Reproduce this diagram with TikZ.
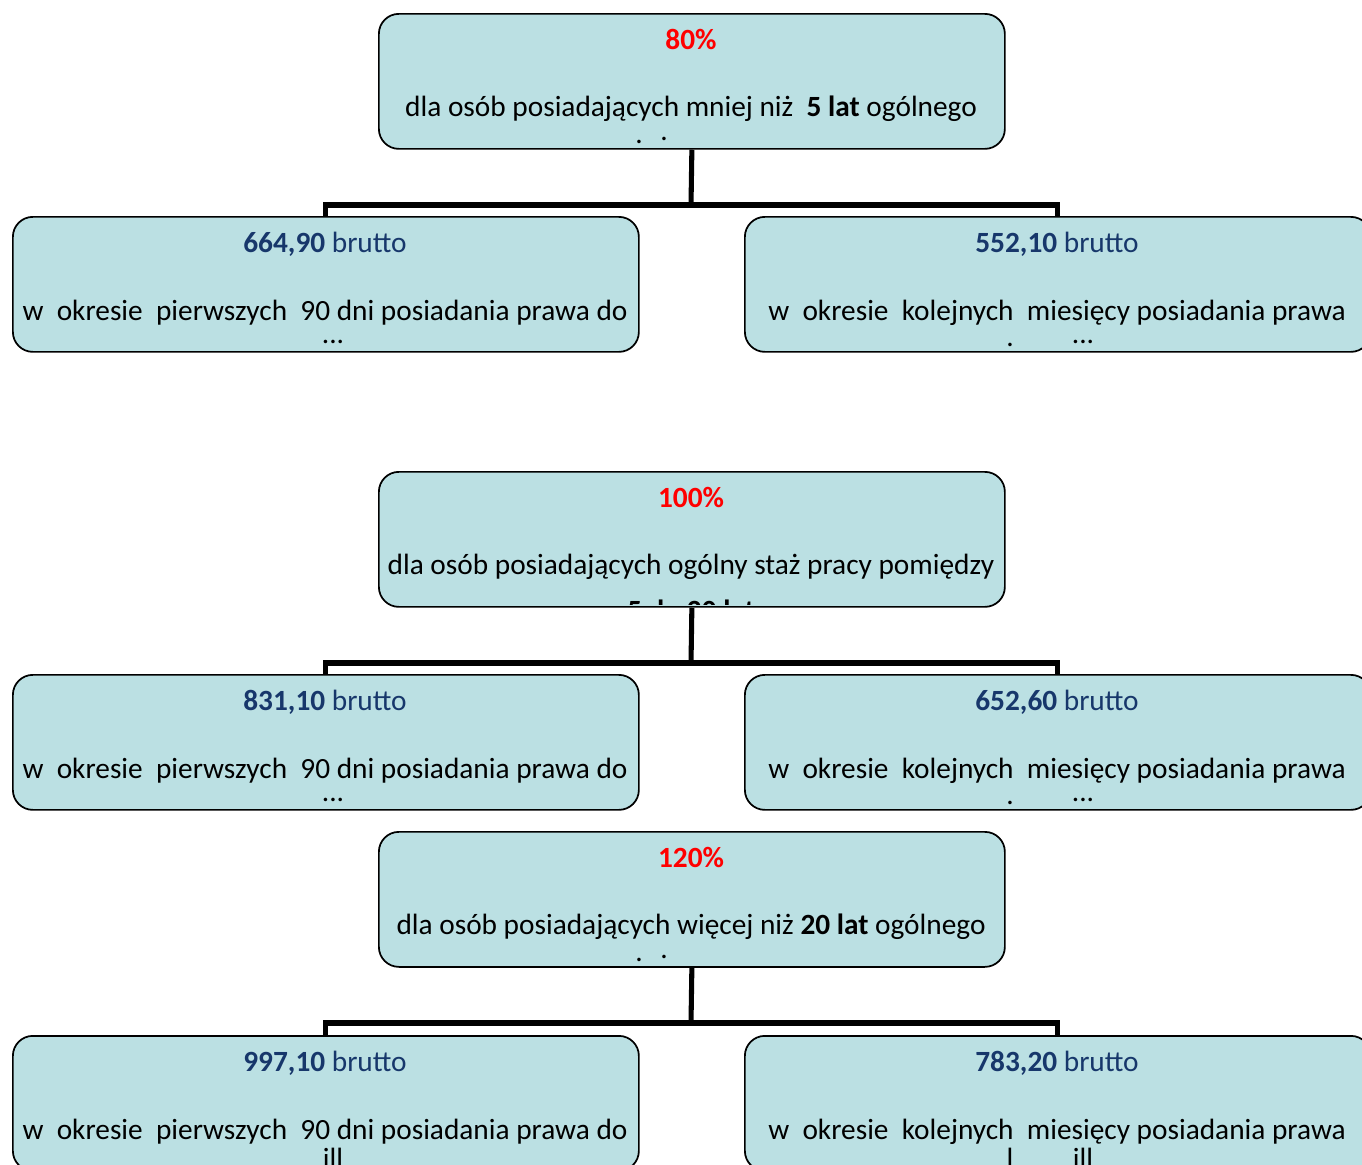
\documentclass[tikz,border=0pt]{standalone}
\usepackage{fontspec}
\setmainfont{Carlito}
\usetikzlibrary{backgrounds}
\definecolor{boxfill}{HTML}{BBE0E3}
\definecolor{navy}{HTML}{17376B}
\definecolor{pctred}{HTML}{FF0000}
\begin{document}
\begin{tikzpicture}[x=0.75pt,y=-0.75pt,
  box/.style={draw=black, line width=1.3pt, fill=boxfill, rounded corners=15pt,
    minimum width=469.5pt, minimum height=101.25pt, inner sep=0pt, anchor=north west},
  conn/.style={line width=3.8pt, line join=miter},
  txt/.style={anchor=base, inner sep=0pt, font=\fontsize{22}{26}\selectfont},
  pct/.style={txt, text=pctred, font=\fontsize{22}{26}\selectfont\bfseries},
  val/.style={txt, text=navy},
  frag/.style={txt}
]
\useasboundingbox (0,0) rectangle (1362,1164);

% ---------- group 1 ----------
\node[box] (p1) at (378,13) {};
\node[box] (l1) at (12,216) {};
\node[box] (r1) at (744,216) {};
\coordinate (j1) at (691,205);
\begin{scope}[on background layer]
  \draw[conn] (p1.south) -- (j1);
  \draw[conn] (l1.north) |- (j1) -| (r1.north);
\end{scope}
\node[pct] (p1a) at (691,49) {80\%};
\node[txt] (p1b) at (691,116) {dla osób posiadających mniej niż\ \ \textbf{5 lat} ogólnego};
\node[frag] (p1c) at (639,143) {.};
\node[frag] (p1d) at (664,140) {.};
\node[val] (l1a) at (325,252) {\textbf{664,90} brutto};
\node[txt] (l1b) at (325,320) {w\ \ okresie\ \ pierwszych\ \ 90 dni posiadania prawa do};
\node[frag] (l1c) at (333,343) {...};
\node[val] (r1a) at (1057,252) {\textbf{552,10} brutto};
\node[txt] (r1b) at (1057,320) {w\ \ okresie\ \ kolejnych\ \ miesięcy posiadania prawa};
\node[frag] (r1c) at (1010,346) {.};
\node[frag] (r1d) at (1083,343) {...};

% ---------- group 2 ----------
\node[box] (p2) at (378,471) {};
\node[box] (l2) at (12,674) {};
\node[box] (r2) at (744,674) {};
\coordinate (j2) at (691,663);
\begin{scope}[on background layer]
  \draw[conn] (p2.south) -- (j2);
  \draw[conn] (l2.north) |- (j2) -| (r2.north);
\end{scope}
\node[pct] (p2a) at (691,507) {100\%};
\node[txt] (p2b) at (691,574) {dla osób posiadających ogólny staż pracy pomiędzy};
\begin{scope}
  \clip (380,590) rectangle (1002,604.5);
  \node[txt, font=\fontsize{22}{26}\selectfont\bfseries] (p2c) at (691,620) {5 do 20 lat};
\end{scope}
\node[val] (l2a) at (325,710) {\textbf{831,10} brutto};
\node[txt] (l2b) at (325,778) {w\ \ okresie\ \ pierwszych\ \ 90 dni posiadania prawa do};
\node[frag] (l2c) at (333,801) {...};
\node[val] (r2a) at (1057,710) {\textbf{652,60} brutto};
\node[txt] (r2b) at (1057,778) {w\ \ okresie\ \ kolejnych\ \ miesięcy posiadania prawa};
\node[frag] (r2c) at (1010,804) {.};
\node[frag] (r2d) at (1083,801) {...};

% ---------- group 3 ----------
\node[box] (p3) at (378,831) {};
\node[box] (l3) at (12,1035) {};
\node[box] (r3) at (744,1035) {};
\coordinate (j3) at (691,1023);
\begin{scope}[on background layer]
  \draw[conn] (p3.south) -- (j3);
  \draw[conn] (l3.north) |- (j3) -| (r3.north);
\end{scope}
\node[pct] (p3a) at (691,867) {120\%};
\node[txt] (p3b) at (691,934) {dla osób posiadających więcej niż \textbf{20 lat} ogólnego};
\node[frag] (p3c) at (639,961) {.};
\node[frag] (p3d) at (664,958) {.};
\node[val] (l3a) at (325,1071) {\textbf{997,10} brutto};
\node[txt] (l3b) at (325,1139) {w\ \ okresie\ \ pierwszych\ \ 90 dni posiadania prawa do};
\node[frag] (l3c) at (333,1168) {ill};
\node[val] (r3a) at (1057,1071) {\textbf{783,20} brutto};
\node[txt] (r3b) at (1057,1139) {w\ \ okresie\ \ kolejnych\ \ miesięcy posiadania prawa};
\node[frag] (r3c) at (1010,1168) {l};
\node[frag] (r3d) at (1083,1168) {ill};
\end{tikzpicture}
\end{document}
